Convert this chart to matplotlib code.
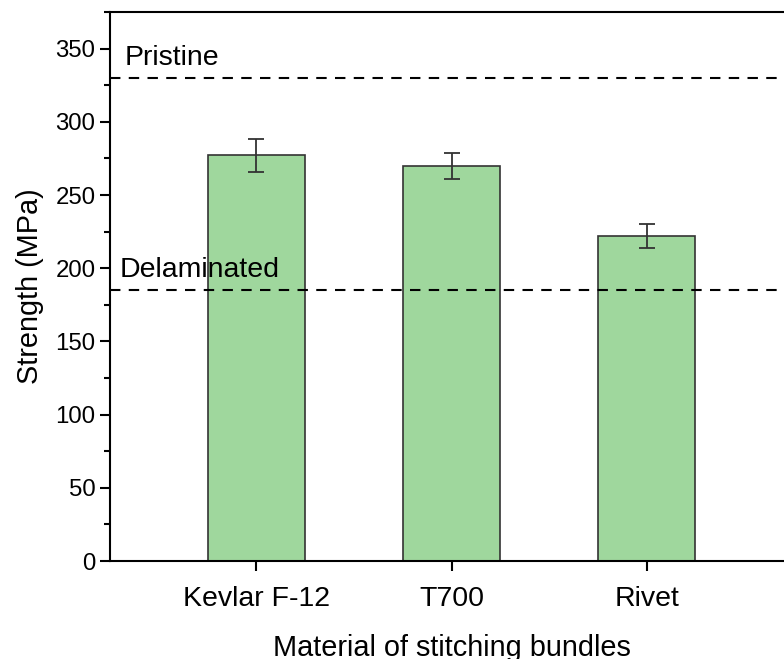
import matplotlib.pyplot as plt
from matplotlib.ticker import MultipleLocator

plt.rcParams['font.family'] = ['Liberation Sans', 'DejaVu Sans']

# data
materials = ['Kevlar F-12', 'T700', 'Rivet']
strength = [277, 270, 222]
strength_err = [11, 9, 8]
pristine = 330
delaminated = 185

fig = plt.figure(figsize=(7.84, 6.59), dpi=100)
W, H = 784, 659
# axes box in pixels: left 110, right ~793 (cropped), top 12, bottom 561
ax = fig.add_axes([110 / W, (H - 561) / H, (793 - 110) / W, (561 - 12) / H])

x = list(range(len(materials)))
ax.bar(x, strength, width=0.5, color='#9fd79d', edgecolor='#333333', linewidth=1.2, zorder=2)
ax.errorbar(x, strength, yerr=strength_err, fmt='none', ecolor='#333333',
            elinewidth=1.3, capsize=6, capthick=1.3, zorder=3)

ax.axhline(pristine, color='black', linestyle=(0, (5, 4)), linewidth=1.5, zorder=4)
ax.axhline(delaminated, color='black', linestyle=(0, (5, 4)), linewidth=1.5, zorder=4)
ax.text(0.022, pristine + 5, 'Pristine', transform=ax.get_yaxis_transform(),
        fontsize=20.5, va='bottom', ha='left')
ax.text(0.014, delaminated + 5, 'Delaminated', transform=ax.get_yaxis_transform(),
        fontsize=20.5, va='bottom', ha='left')

ax.set_xlim(-0.75, 2.75)
ax.set_ylim(0, 375)
ax.set_xticks(x)
ax.set_xticklabels(materials, fontsize=20.5)
ax.yaxis.set_major_locator(MultipleLocator(50))
ax.yaxis.set_minor_locator(MultipleLocator(25))
ax.tick_params(axis='y', labelsize=17.3, length=7, width=1.5, direction='out')
ax.tick_params(axis='y', which='minor', length=4, width=1.5)
ax.tick_params(axis='x', length=7, width=1.5, direction='out', pad=11)

ax.set_ylabel('Strength (MPa)', fontsize=20.8, labelpad=8)
ax.set_xlabel('Material of stitching bundles', fontsize=20.8, labelpad=16)

for side in ['left', 'bottom', 'top', 'right']:
    ax.spines[side].set_linewidth(1.5)

plt.savefig('out.png', dpi=100)
